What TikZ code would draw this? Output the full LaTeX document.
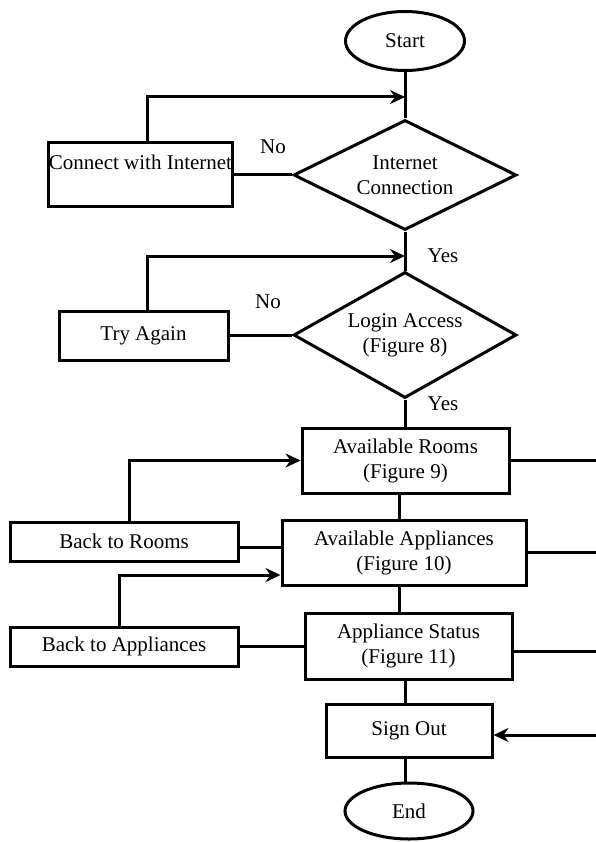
\documentclass[tikz,border=0pt]{standalone}
\usepackage{fontspec}
\setmainfont{Liberation Serif}
\usetikzlibrary{shapes.geometric,arrows.meta}
\begin{document}
\begin{tikzpicture}[x=1pt, y=-1pt, line width=3pt,
    every node/.style={font=\fontsize{21}{25}\selectfont},
    term/.style={draw, ellipse, inner sep=0pt},
    box/.style={draw, rectangle, inner sep=0pt, align=center},
    decide/.style={draw, diamond, aspect=2, inner sep=0pt, align=center},
    arr/.style={-{Stealth[length=15pt, width=14pt, inset=5pt]}}]
  \useasboundingbox (0,0) rectangle (596,842);
  % main column
  \node[term, minimum width=119pt, minimum height=59pt] (start) at (405,41) {Start};
  \node[decide, minimum width=223pt, minimum height=110pt] (netcheck) at (405,175) {Internet\\Connection};
  \node[decide, minimum width=223pt, minimum height=126pt] (login) at (405,335) {Login Access\\(Figure 8)};
  \node[box, minimum width=207pt, minimum height=65pt] (rooms) at (405.5,460.5) {Available Rooms\\(Figure 9)};
  \node[box, minimum width=244pt, minimum height=65pt] (appl) at (404,552.5) {Available Appliances\\(Figure 10)};
  \node[box, minimum width=207pt, minimum height=66pt] (status) at (408.5,646) {Appliance Status\\(Figure 11)};
  \node[box, minimum width=166pt, minimum height=53pt] (signout) at (409,730.5) {Sign Out};
  \node[term, minimum width=128pt, minimum height=56pt] (stop) at (409,811) {End};
  % side boxes
  \node[box, minimum width=181pt, minimum height=64pt] (connect) at (140.5,175) {Connect with Internet\\~};
  \node[box, minimum width=169pt, minimum height=49pt] (retry) at (143.5,335.5) {Try Again};
  \node[box, minimum width=228pt, minimum height=39pt] (backrooms) at (124,541.5) {Back to Rooms};
  \node[box, minimum width=228pt, minimum height=39pt] (backappl) at (124,646.5) {Back to Appliances};
  % labels
  \node (no1) at (273,147) {No};
  \node (yes1) at (443,256) {Yes};
  \node (no2) at (268,302) {No};
  \node (yes2) at (443,404) {Yes};
  % joints
  \coordinate (col) at (405,0);
  \coordinate (col2) at (399,0);
  \coordinate (rt) at (598,0);
  \coordinate (j1) at (405,97);
  \coordinate (j2) at (405,256);
  % flow down
  \draw (start.south) -- (netcheck.north);
  \draw (netcheck.south) -- (login.north);
  \draw (login.south) -- (login.south |- rooms.north);
  \draw (rooms.south -| col2) -- (appl.north -| col2);
  \draw (appl.south -| col2) -- (status.north -| col2);
  \draw (status.south -| col) -- (signout.north -| col);
  \draw (signout.south -| col) -- (stop.north -| col);
  % no branches
  \draw (netcheck.west) -- (netcheck.west -| connect.east);
  \draw[arr] ([xshift=6.5pt]connect.north) |- (j1);
  \draw (login.west) -- (login.west -| retry.east);
  \draw[arr] ([xshift=3.5pt]retry.north) |- (j2);
  % back loops
  \draw ([yshift=-5.5pt]backrooms.east) -- ([yshift=-5.5pt]backrooms.east -| appl.west);
  \draw[arr] ([xshift=5pt]backrooms.north) |- (rooms.west);
  \draw (status.west) -- (status.west -| backappl.east);
  \draw[arr] ([xshift=-5pt]backappl.north) |- ([yshift=-22.5pt]appl.west);
  % right side to sign out
  \draw (rooms.east) -- (rooms.east -| rt);
  \draw (appl.east) -- (appl.east -| rt);
  \draw ([yshift=-5pt]status.east) -- ([yshift=-5pt]status.east -| rt);
  \draw[arr] (rooms.east -| rt) -- ([yshift=-4.5pt]signout.east -| rt) -- ([yshift=-4.5pt]signout.east);
\end{tikzpicture}
\end{document}
